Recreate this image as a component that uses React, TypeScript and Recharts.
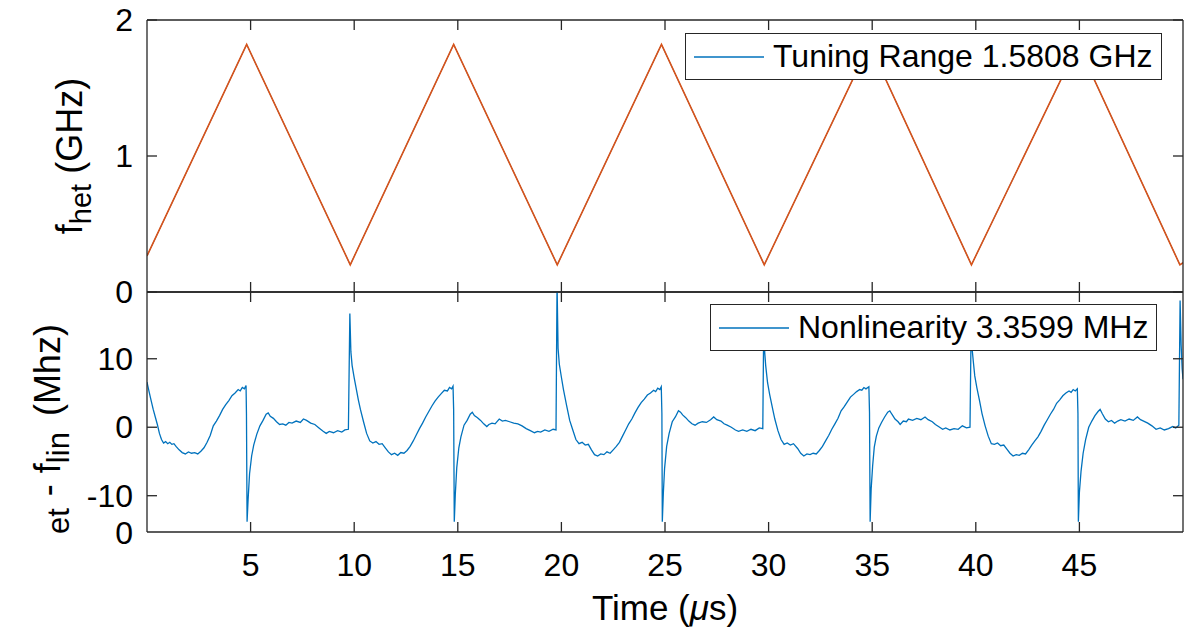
import React from "react";
import { Legend, Line, LineChart, XAxis, YAxis } from "recharts";

// axis ticks
const timeTicks = [5, 10, 15, 20, 25, 30, 35, 40, 45];
const tuningTicks = [0, 1, 2];
const nonlinTicks = [-10, 0, 10];

// top panel: measured heterodyne frequency (triangle sweep), GHz
const tuningTime = [0, 4.81, 9.81, 14.8, 19.8, 24.83, 29.79, 34.87, 39.79, 44.93, 49.85, 50];
const tuningGHz = [0.265, 1.82, 0.2, 1.82, 0.2, 1.82, 0.2, 1.82, 0.2, 1.82, 0.2, 0.215];

const nlRamp0: [number, number][] = [
  [0.0, 6.6], [0.1, 5.2], [0.2, 3.9], [0.3, 2.6], [0.4, 1.5], [0.5, 0.4], [0.6, -0.9],
  [0.7, -1.8], [0.8, -2.3], [0.9, -2.1], [1.0, -2.4], [1.1, -2.2], [1.2, -2.5], [1.3, -2.4],
  [1.4, -2.8], [1.55, -3.3], [1.7, -3.7], [1.85, -3.9], [2.0, -3.6], [2.15, -3.8], [2.3, -3.7],
  [2.45, -3.9], [2.6, -3.5], [2.75, -3.0], [2.9, -2.2], [3.05, -1.2], [3.2, 0.2], [3.35, 0.9],
  [3.5, 1.7], [3.65, 2.6], [3.8, 3.3], [3.95, 3.9], [4.1, 4.6], [4.25, 5.0], [4.4, 5.5],
  [4.5, 5.3], [4.6, 5.8], [4.7, 5.6], [4.78, 6.1]
];

const nlCycle1: [number, number][] = [
  [4.8, 2.0], [4.83, -13.8], [4.88, -10.5], [4.95, -6.8], [5.05, -4.2], [5.15, -2.6],
  [5.3, -1.0], [5.45, 0.2], [5.6, 1.0], [5.75, 1.9], [5.85, 2.1], [5.95, 1.6], [6.1, 1.3],
  [6.25, 0.8], [6.4, 0.4], [6.55, 0.5], [6.7, 0.3], [6.85, 0.7], [7.0, 0.6], [7.2, 0.9],
  [7.4, 0.7], [7.55, 1.2], [7.7, 1.0], [7.9, 0.6], [8.1, 0.4], [8.3, -0.1], [8.5, -0.6],
  [8.65, -0.9], [8.8, -0.6], [9.0, -0.8], [9.2, -0.5], [9.4, -0.7], [9.55, -0.4], [9.72, -0.3],
  [9.79, 16.6], [9.84, 11.0], [9.9, 9.0], [10.0, 7.2], [10.1, 5.6], [10.2, 4.0], [10.3, 2.6],
  [10.45, 0.8], [10.6, -0.9], [10.75, -2.0], [10.9, -2.3], [11.05, -2.1], [11.2, -2.5],
  [11.35, -2.4], [11.5, -3.0], [11.65, -3.6], [11.8, -4.0], [11.95, -3.8], [12.1, -4.1],
  [12.25, -3.7], [12.4, -3.8], [12.55, -3.4], [12.7, -2.8], [12.85, -2.0], [13.0, -1.1],
  [13.15, -0.2], [13.3, 0.6], [13.45, 1.5], [13.6, 2.3], [13.75, 3.1], [13.9, 3.8],
  [14.05, 4.4], [14.2, 4.9], [14.35, 5.4], [14.5, 5.3], [14.6, 5.8], [14.7, 5.6], [14.77, 6.0]
];

const nlCycle2: [number, number][] = [
  [14.8, 2.5], [14.83, -13.8], [14.88, -9.8], [14.95, -5.9], [15.05, -3.0], [15.15, -1.4],
  [15.3, 0.3], [15.45, 1.0], [15.6, 1.9], [15.7, 2.2], [15.8, 1.7], [15.95, 1.4], [16.1, 1.0],
  [16.25, 0.5], [16.4, 0.1], [16.5, 0.4], [16.65, 0.6], [16.8, 0.5], [17.0, 1.2], [17.15, 0.9],
  [17.3, 1.0], [17.5, 0.8], [17.7, 0.6], [17.9, 0.5], [18.1, 0.2], [18.3, -0.2], [18.5, -0.5],
  [18.7, -0.8], [18.85, -0.6], [19.0, -0.7], [19.2, -0.4], [19.4, -0.6], [19.6, -0.3],
  [19.74, -0.4], [19.79, 21.0], [19.84, 11.5], [19.9, 9.2], [20.0, 7.3], [20.1, 5.5],
  [20.25, 3.2], [20.4, 1.0], [20.55, -0.4], [20.7, -1.8], [20.85, -2.4], [21.0, -2.2],
  [21.15, -2.6], [21.3, -2.5], [21.45, -3.3], [21.6, -4.0], [21.75, -4.2], [21.9, -3.9],
  [22.05, -4.0], [22.2, -3.6], [22.35, -3.8], [22.5, -3.3], [22.65, -2.8], [22.8, -2.2],
  [22.95, -1.3], [23.1, -0.4], [23.25, 0.5], [23.4, 1.2], [23.55, 2.1], [23.7, 2.9],
  [23.85, 3.6], [24.0, 4.1], [24.15, 4.7], [24.3, 5.0], [24.45, 5.4], [24.55, 5.2],
  [24.65, 5.7], [24.75, 5.5], [24.82, 5.9]
];

const nlCycle3: [number, number][] = [
  [24.85, 2.0], [24.87, -13.8], [24.92, -9.6], [24.98, -6.0], [25.08, -2.8], [25.2, -0.9],
  [25.35, 0.8], [25.5, 1.5], [25.65, 2.4], [25.75, 2.2], [25.85, 1.8], [26.0, 1.4],
  [26.15, 0.9], [26.3, 0.5], [26.45, 0.3], [26.6, 0.6], [26.8, 0.8], [27.0, 0.7], [27.2, 1.1],
  [27.35, 1.5], [27.5, 1.1], [27.7, 0.9], [27.85, 0.5], [28.0, 0.3], [28.2, 0.0], [28.4, -0.4],
  [28.55, -0.6], [28.75, -0.4], [28.95, -0.6], [29.15, -0.3], [29.35, -0.5], [29.55, -0.1],
  [29.72, -0.2], [29.77, 16.8], [29.81, 11.0], [29.86, 9.0], [29.95, 6.5], [30.05, 4.8],
  [30.2, 2.6], [30.3, 1.2], [30.45, -0.5], [30.6, -1.8], [30.75, -2.5], [30.9, -2.3],
  [31.05, -2.6], [31.2, -2.4], [31.4, -3.1], [31.55, -3.8], [31.7, -4.2], [31.85, -3.9],
  [32.0, -4.0], [32.15, -3.8], [32.3, -3.9], [32.45, -3.4], [32.6, -2.8], [32.75, -2.0],
  [32.9, -1.2], [33.05, -0.3], [33.2, 0.5], [33.35, 1.3], [33.5, 2.4], [33.65, 3.0],
  [33.8, 3.7], [33.95, 4.4], [34.1, 4.8], [34.25, 5.2], [34.4, 5.5], [34.5, 5.4], [34.6, 5.8],
  [34.7, 5.6], [34.84, 5.9]
];

const nlCycle4: [number, number][] = [
  [34.87, 2.2], [34.9, -13.8], [34.95, -9.0], [35.02, -5.7], [35.1, -2.9], [35.2, -1.3],
  [35.32, -0.1], [35.45, 0.7], [35.6, 1.5], [35.75, 2.2], [35.85, 2.4], [35.95, 1.9],
  [36.1, 1.2], [36.25, 0.8], [36.35, 0.4], [36.5, 0.9], [36.65, 0.8], [36.75, 1.2],
  [36.95, 1.0], [37.15, 1.3], [37.35, 1.1], [37.55, 1.5], [37.7, 1.1], [37.9, 0.8],
  [38.05, 0.4], [38.2, 0.1], [38.4, -0.3], [38.55, -0.1], [38.75, -0.4], [38.95, -0.2],
  [39.15, -0.3], [39.35, 0.2], [39.55, -0.1], [39.72, 0.0], [39.78, 16.0], [39.83, 11.2],
  [39.88, 9.6], [39.95, 7.5], [40.05, 5.8], [40.18, 3.9], [40.3, 2.0], [40.45, 0.2],
  [40.6, -1.3], [40.75, -2.4], [40.9, -2.5], [41.05, -2.3], [41.2, -2.7], [41.35, -2.6],
  [41.5, -3.2], [41.65, -3.8], [41.8, -4.2], [41.95, -4.0], [42.1, -4.1], [42.25, -3.8],
  [42.4, -3.9], [42.55, -3.3], [42.7, -2.6], [42.85, -2.0], [43.0, -1.4], [43.15, -0.6],
  [43.3, 0.3], [43.45, 1.1], [43.6, 1.9], [43.75, 2.6], [43.9, 3.5], [44.05, 4.0],
  [44.2, 4.6], [44.35, 5.0], [44.5, 5.3], [44.6, 5.1], [44.7, 5.5], [44.8, 5.3], [44.9, 5.6]
];

const nlCycle5: [number, number][] = [
  [44.93, 2.0], [44.95, -13.8], [45.0, -9.5], [45.08, -6.4], [45.18, -3.8], [45.3, -1.8],
  [45.45, 0.0], [45.6, 0.9], [45.75, 1.7], [45.9, 2.3], [46.0, 2.6], [46.1, 2.0], [46.25, 1.2],
  [46.4, 0.8], [46.55, 1.0], [46.7, 0.6], [46.85, 0.9], [47.0, 1.1], [47.2, 0.9], [47.4, 1.2],
  [47.6, 1.0], [47.8, 1.5], [47.95, 1.1], [48.1, 0.9], [48.3, 0.6], [48.5, 0.2], [48.7, -0.3],
  [48.9, -0.1], [49.1, -0.4], [49.3, -0.2], [49.5, 0.1], [49.65, -0.1], [49.8, 0.3],
  [49.86, 18.5], [49.91, 12.0], [49.96, 8.5], [50.0, 7.0]
];

const tuningData = tuningTime.map((t, i) => ({ t, f: tuningGHz[i] }));
const nonlinData = [...nlRamp0, ...nlCycle1, ...nlCycle2, ...nlCycle3, ...nlCycle4, ...nlCycle5].map(
  ([t, v]) => ({ t, v })
);

const BLUE = "#0072BD";
const ORANGE = "#D95319";
const AXIS = "#262626";
const FONT = '"Liberation Sans", Arial, Helvetica, sans-serif';
const TICK_LEN = 10;

const axisLine = { stroke: AXIS, strokeWidth: 1.3 };

// MATLAB-style ticks: short marks pointing into the plot box
function InwardTick(props: any) {
  const { payload, side, gap = 0, showLabel = false } = props;
  const x = Number(props.x);
  const y = Number(props.y);
  let d = "";
  if (side === "left") {
    d = `M${x + gap},${y}H${x + gap + TICK_LEN}`;
  } else if (side === "right") {
    d = `M${x},${y}H${x - TICK_LEN}`;
  } else if (side === "top") {
    d = `M${x},${y}V${y + TICK_LEN}`;
  } else {
    d = `M${x},${y - gap}V${y - gap - TICK_LEN}`;
  }
  return (
    <g>
      <path d={d} stroke={AXIS} strokeWidth={1.3} fill="none" />
      {showLabel && side === "left" && (
        <text x={x} y={y} dy="0.35em" textAnchor="end" fontSize={32} fill="#000">
          {payload.value}
        </text>
      )}
      {showLabel && side === "bottom" && (
        <text x={x} y={y} dy="0.71em" textAnchor="middle" fontSize={32} fill="#000">
          {payload.value}
        </text>
      )}
    </g>
  );
}

function LegendBox({ text }: { text: string }) {
  return (
    <div
      style={{
        display: "flex",
        alignItems: "center",
        height: 47,
        boxSizing: "border-box",
        border: `1.3px solid ${AXIS}`,
        background: "#fff",
        padding: "0 8px",
        fontFamily: FONT,
        whiteSpace: "nowrap"
      }}
    >
      <svg width={70} height={4}>
        <line x1={0} y1={2} x2={70} y2={2} stroke={BLUE} strokeWidth={1.3} />
      </svg>
      <span style={{ marginLeft: 9, fontSize: 32, color: "#000" }}>{text}</span>
    </div>
  );
}

function TuningTitle(props: any) {
  const vb = props.viewBox || { x: 87, y: 20, width: 60, height: 272 };
  const x = vb.x - 5;
  const y = vb.y + vb.height / 2;
  return (
    <text
      x={x}
      y={y}
      transform={`rotate(-90 ${x} ${y})`}
      textAnchor="middle"
      fontSize={36}
      fill="#000"
    >
      f
      <tspan fontSize={29} dy={9}>het</tspan>
      <tspan dy={-9}> (GHz)</tspan>
    </text>
  );
}

function NonlinTitle(props: any) {
  const vb = props.viewBox || { x: 87, y: 292, width: 60, height: 240 };
  const x = vb.x - 27;
  const y = vb.y + vb.height + 2;
  return (
    <g>
      <text
        x={x}
        y={y}
        transform={`rotate(-90 ${x} ${y})`}
        textAnchor="start"
        fontSize={36}
        fill="#000"
      >
        <tspan fontSize={31} dy={9}>et</tspan>
        <tspan dy={-9} dx={12}>-</tspan>
        <tspan dx={11}>f</tspan>
        <tspan fontSize={31} dy={9}>lin</tspan>
        <tspan dy={-9} dx={6}> (Mhz)</tspan>
      </text>
      <text x={vb.x + vb.width - 14} y={vb.y + vb.height + 12} textAnchor="end" fontSize={32} fill="#000">
        0
      </text>
    </g>
  );
}

function TimeTitle(props: any) {
  const vb = props.viewBox || { x: 147, y: 532, width: 1036, height: 102 };
  return (
    <text x={vb.x + vb.width / 2} y={vb.y + 88} textAnchor="middle" fontSize={35} fill="#000">
      Time (<tspan fontStyle="italic">μ</tspan>s)
    </text>
  );
}

export default function App() {
  return (
    <div
      style={{
        position: "absolute",
        left: 0,
        top: 0,
        width: 1190,
        height: 634,
        background: "#fff",
        fontFamily: FONT
      }}
    >
      <div style={{ position: "absolute", left: 0, top: 0 }}>
        <LineChart width={1190} height={320} data={tuningData} margin={{ top: 19, right: 6, bottom: 27, left: 87 }}>
          <XAxis
            dataKey="t"
            type="number"
            domain={[0, 50]}
            allowDataOverflow
            ticks={timeTicks}
            height={1}
            tickSize={0}
            tickMargin={0}
            tickLine={false}
            axisLine={axisLine}
            tick={(p: any) => <InwardTick {...p} side="bottom" />}
          />
          <XAxis
            xAxisId="top"
            dataKey="t"
            orientation="top"
            type="number"
            domain={[0, 50]}
            allowDataOverflow
            ticks={timeTicks}
            height={1}
            tickSize={0}
            tickMargin={0}
            tickLine={false}
            axisLine={axisLine}
            tick={(p: any) => <InwardTick {...p} side="top" />}
          />
          <YAxis
            type="number"
            domain={[0, 2]}
            allowDataOverflow
            ticks={tuningTicks}
            width={60}
            tickSize={0}
            tickMargin={14}
            tickLine={false}
            axisLine={axisLine}
            tick={(p: any) => <InwardTick {...p} side="left" gap={14} showLabel />}
            label={(p: any) => <TuningTitle {...p} />}
          />
          <YAxis
            yAxisId="right"
            dataKey="f"
            orientation="right"
            type="number"
            domain={[0, 2]}
            allowDataOverflow
            ticks={tuningTicks}
            width={1}
            tickSize={0}
            tickMargin={0}
            tickLine={false}
            axisLine={axisLine}
            tick={(p: any) => <InwardTick {...p} side="right" />}
          />
          <Legend
            layout="vertical"
            align="center"
            verticalAlign="middle"
            content={() => <LegendBox text="Tuning Range 1.5808 GHz" />}
            wrapperStyle={{ top: 33, left: 685, width: "auto", height: "auto" }}
          />
          <Line type="linear" dataKey="f" stroke={BLUE} strokeWidth={1.0} dot={false} isAnimationActive={false} legendType="none" />
          <Line type="linear" dataKey="f" stroke={ORANGE} strokeWidth={1.6} dot={false} isAnimationActive={false} legendType="none" />
        </LineChart>
      </div>

      <div style={{ position: "absolute", left: 0, top: 280 }}>
        <LineChart width={1190} height={354} data={nonlinData} margin={{ top: 11, right: 6, bottom: 0, left: 87 }}>
          <XAxis
            dataKey="t"
            type="number"
            domain={[0, 50]}
            allowDataOverflow
            ticks={timeTicks}
            height={102}
            tickSize={0}
            tickMargin={21}
            tickLine={false}
            axisLine={axisLine}
            tick={(p: any) => <InwardTick {...p} side="bottom" gap={21} showLabel />}
            label={(p: any) => <TimeTitle {...p} />}
          />
          <XAxis
            xAxisId="top"
            dataKey="t"
            orientation="top"
            type="number"
            domain={[0, 50]}
            allowDataOverflow
            ticks={timeTicks}
            height={1}
            tickSize={0}
            tickMargin={0}
            tickLine={false}
            axisLine={axisLine}
            tick={(p: any) => <InwardTick {...p} side="top" />}
          />
          <YAxis
            type="number"
            domain={[-15.3, 19.75]}
            allowDataOverflow
            ticks={nonlinTicks}
            width={60}
            tickSize={0}
            tickMargin={14}
            tickLine={false}
            axisLine={axisLine}
            tick={(p: any) => <InwardTick {...p} side="left" gap={14} showLabel />}
            label={(p: any) => <NonlinTitle {...p} />}
          />
          <YAxis
            yAxisId="right"
            dataKey="v"
            orientation="right"
            type="number"
            domain={[-15.3, 19.75]}
            allowDataOverflow
            ticks={nonlinTicks}
            width={1}
            tickSize={0}
            tickMargin={0}
            tickLine={false}
            axisLine={axisLine}
            tick={(p: any) => <InwardTick {...p} side="right" />}
          />
          <Legend
            layout="vertical"
            align="center"
            verticalAlign="middle"
            content={() => <LegendBox text="Nonlinearity 3.3599 MHz" />}
            wrapperStyle={{ top: 24, left: 710, width: "auto", height: "auto" }}
          />
          <Line type="linear" dataKey="v" stroke={BLUE} strokeWidth={1.3} dot={false} isAnimationActive={false} legendType="none" />
        </LineChart>
      </div>
    </div>
  );
}
